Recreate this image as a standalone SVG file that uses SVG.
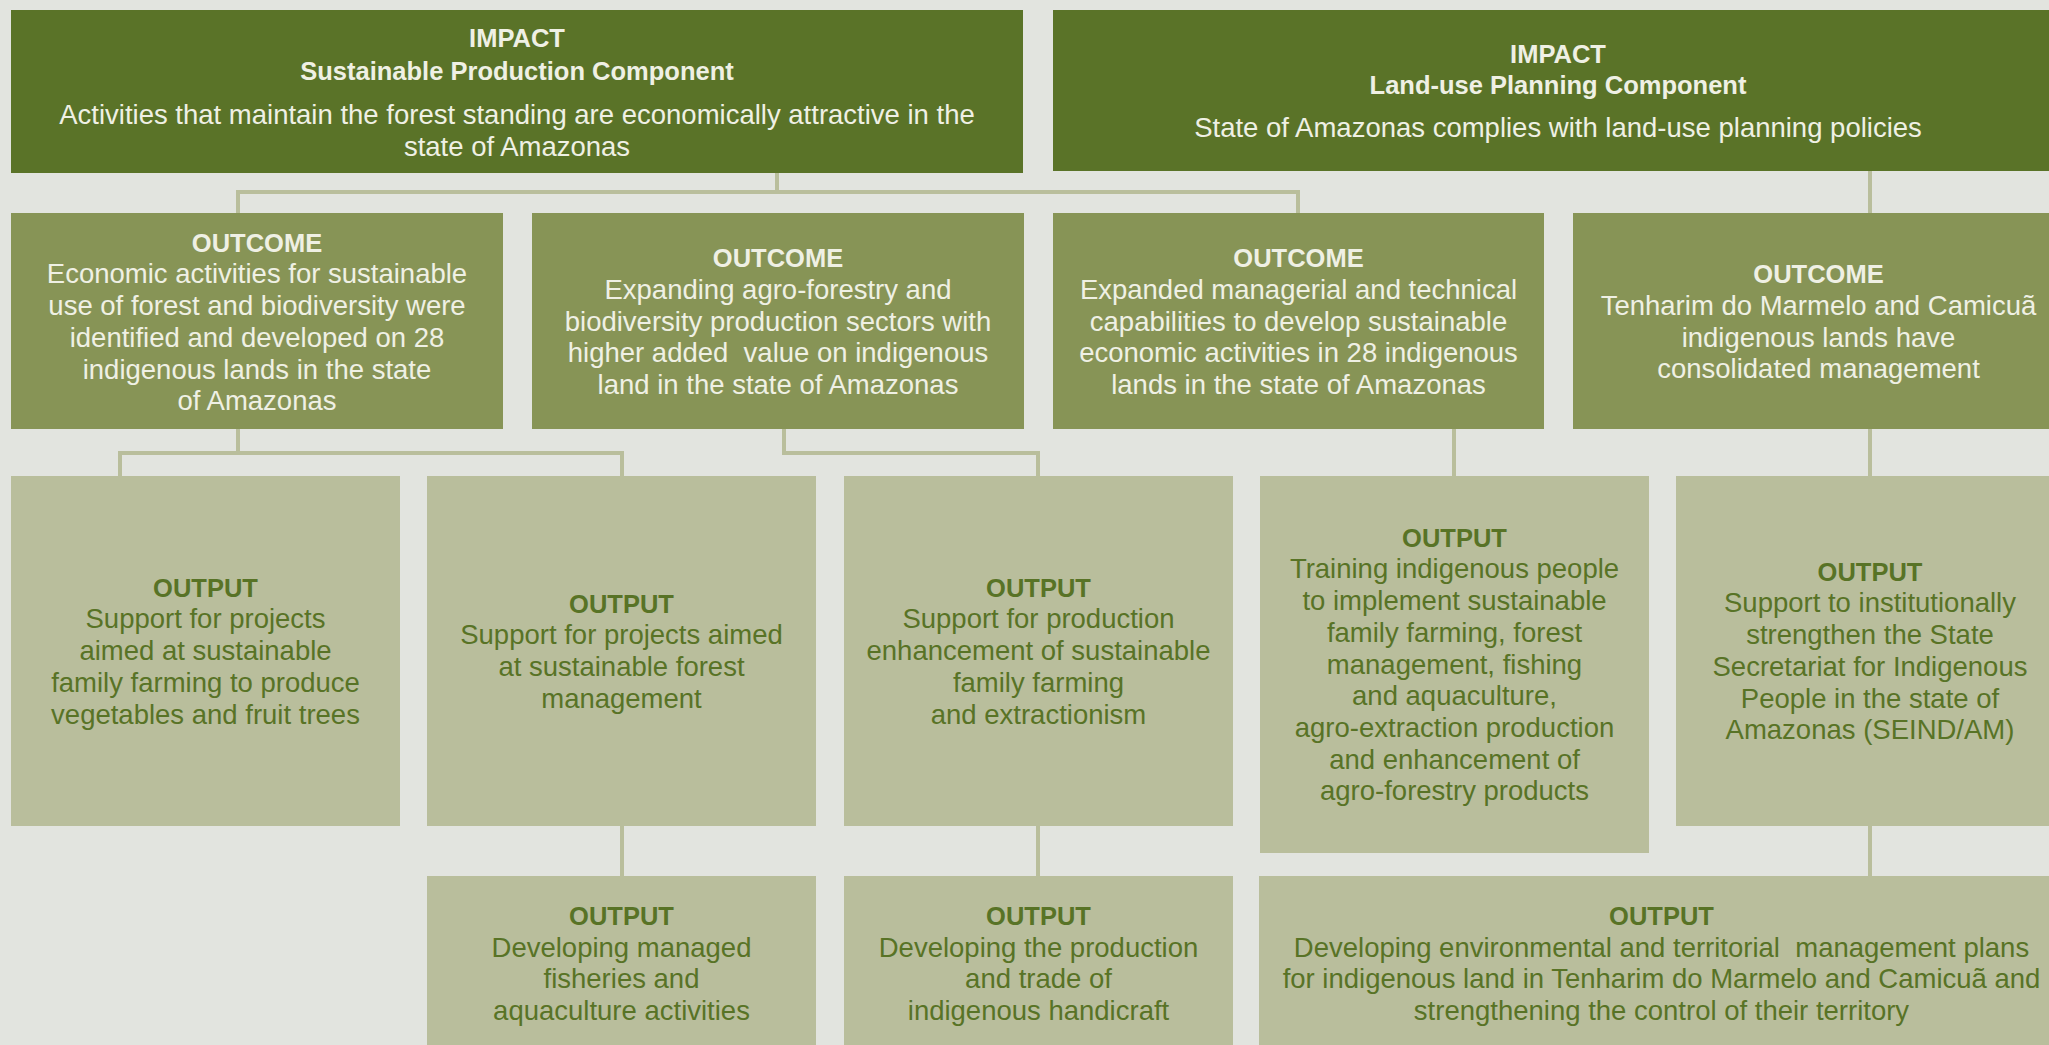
<svg xmlns="http://www.w3.org/2000/svg" width="2049" height="1045" viewBox="0 0 2049 1045">
<style>
text{font-family:"Liberation Sans",Arial,sans-serif;font-size:27.5px;text-anchor:middle}
.imp{fill:#5a7328}
.out{fill:#879456}
.opt{fill:#b9be9c}
.tl{fill:#eff0e4}
.td{fill:#587326}
.b{font-weight:700;font-size:25.5px}
.con{fill:none;stroke:#b9be9c;stroke-width:4}
</style>
<rect width="2049" height="1045" fill="#e2e4df"/>
<g id="connectors" class="con">
<path d="M777 173V192M238 213V192H1298V213"/>
<path d="M1870 171V213"/>
<path d="M238 429V453M120 476V453H622V476"/>
<path d="M784 429V453H1038V476"/>
<path d="M1454 429V476"/>
<path d="M1870 429V476"/>
<path d="M622 826V876"/>
<path d="M1038 826V876"/>
<path d="M1870 826V876"/>
</g>
<g id="impact1">
<rect class="imp" x="11" y="10" width="1012" height="163"/>
<text class="tl" x="517" y="47.3"><tspan class="b">IMPACT</tspan><tspan class="b" x="517" dy="32.7">Sustainable Production Component</tspan><tspan x="517" dy="44.3">Activities that maintain the forest standing are economically attractive in the</tspan><tspan x="517" dy="31.7">state of Amazonas</tspan></text>
</g>
<g id="impact2">
<rect class="imp" x="1053" y="10" width="1011" height="161"/>
<text class="tl" x="1558" y="62.7"><tspan class="b">IMPACT</tspan><tspan class="b" x="1558" dy="31.3">Land-use Planning Component</tspan><tspan x="1558" dy="43.3">State of Amazonas complies with land-use planning policies</tspan></text>
</g>
<g id="outcome1">
<rect class="out" x="11" y="213" width="492" height="216"/>
<text class="tl" x="257" y="251.7"><tspan class="b">OUTCOME</tspan><tspan x="257" dy="31.7">Economic activities for sustainable</tspan><tspan x="257" dy="31.7">use of forest and biodiversity were</tspan><tspan x="257" dy="31.7">identified and developed on 28</tspan><tspan x="257" dy="31.7">indigenous lands in the state</tspan><tspan x="257" dy="31.7">of Amazonas</tspan></text>
</g>
<g id="outcome2">
<rect class="out" x="532" y="213" width="492" height="216"/>
<text class="tl" x="778" y="267.3" xml:space="preserve"><tspan class="b">OUTCOME</tspan><tspan x="778" dy="31.7">Expanding agro-forestry and</tspan><tspan x="778" dy="31.7">biodiversity production sectors with</tspan><tspan x="778" dy="31.7">higher added  value on indigenous</tspan><tspan x="778" dy="31.7">land in the state of Amazonas</tspan></text>
</g>
<g id="outcome3">
<rect class="out" x="1053" y="213" width="491" height="216"/>
<text class="tl" x="1298.5" y="267.3"><tspan class="b">OUTCOME</tspan><tspan x="1298.5" dy="31.7">Expanded managerial and technical</tspan><tspan x="1298.5" dy="31.7">capabilities to develop sustainable</tspan><tspan x="1298.5" dy="31.7">economic activities in 28 indigenous</tspan><tspan x="1298.5" dy="31.7">lands in the state of Amazonas</tspan></text>
</g>
<g id="outcome4">
<rect class="out" x="1573" y="213" width="491" height="216"/>
<text class="tl" x="1818.5" y="283.3"><tspan class="b">OUTCOME</tspan><tspan x="1818.5" dy="31.7">Tenharim do Marmelo and Camicuã</tspan><tspan x="1818.5" dy="31.7">indigenous lands have</tspan><tspan x="1818.5" dy="31.7">consolidated management</tspan></text>
</g>
<g id="output1">
<rect class="opt" x="11" y="476" width="389" height="350"/>
<text class="td" x="205.5" y="596.7"><tspan class="b">OUTPUT</tspan><tspan x="205.5" dy="31.7">Support for projects</tspan><tspan x="205.5" dy="31.7">aimed at sustainable</tspan><tspan x="205.5" dy="31.7">family farming to produce</tspan><tspan x="205.5" dy="31.7">vegetables and fruit trees</tspan></text>
</g>
<g id="output2">
<rect class="opt" x="427" y="476" width="389" height="350"/>
<text class="td" x="621.5" y="612.7"><tspan class="b">OUTPUT</tspan><tspan x="621.5" dy="31.7">Support for projects aimed</tspan><tspan x="621.5" dy="31.7">at sustainable forest</tspan><tspan x="621.5" dy="31.7">management</tspan></text>
</g>
<g id="output3">
<rect class="opt" x="844" y="476" width="389" height="350"/>
<text class="td" x="1038.5" y="596.7"><tspan class="b">OUTPUT</tspan><tspan x="1038.5" dy="31.7">Support for production</tspan><tspan x="1038.5" dy="31.7">enhancement of sustainable</tspan><tspan x="1038.5" dy="31.7">family farming</tspan><tspan x="1038.5" dy="31.7">and extractionism</tspan></text>
</g>
<g id="output4">
<rect class="opt" x="1260" y="476" width="389" height="377"/>
<text class="td" x="1454.5" y="546.7"><tspan class="b">OUTPUT</tspan><tspan x="1454.5" dy="31.7">Training indigenous people</tspan><tspan x="1454.5" dy="31.7">to implement sustainable</tspan><tspan x="1454.5" dy="31.7">family farming, forest</tspan><tspan x="1454.5" dy="31.7">management, fishing</tspan><tspan x="1454.5" dy="31.7">and aquaculture,</tspan><tspan x="1454.5" dy="31.7">agro-extraction production</tspan><tspan x="1454.5" dy="31.7">and enhancement of</tspan><tspan x="1454.5" dy="31.7">agro-forestry products</tspan></text>
</g>
<g id="output5">
<rect class="opt" x="1676" y="476" width="389" height="350"/>
<text class="td" x="1870" y="580.7"><tspan class="b">OUTPUT</tspan><tspan x="1870" dy="31.7">Support to institutionally</tspan><tspan x="1870" dy="31.7">strengthen the State</tspan><tspan x="1870" dy="31.7">Secretariat for Indigenous</tspan><tspan x="1870" dy="31.7">People in the state of</tspan><tspan x="1870" dy="31.7">Amazonas (SEIND/AM)</tspan></text>
</g>
<g id="output6">
<rect class="opt" x="427" y="876" width="389" height="190"/>
<text class="td" x="621.5" y="925"><tspan class="b">OUTPUT</tspan><tspan x="621.5" dy="31.7">Developing managed</tspan><tspan x="621.5" dy="31.7">fisheries and</tspan><tspan x="621.5" dy="31.7">aquaculture activities</tspan></text>
</g>
<g id="output7">
<rect class="opt" x="844" y="876" width="389" height="190"/>
<text class="td" x="1038.5" y="925"><tspan class="b">OUTPUT</tspan><tspan x="1038.5" dy="31.7">Developing the production</tspan><tspan x="1038.5" dy="31.7">and trade of</tspan><tspan x="1038.5" dy="31.7">indigenous handicraft</tspan></text>
</g>
<g id="output8">
<rect class="opt" x="1259" y="876" width="805" height="190"/>
<text class="td" x="1661.5" y="925" xml:space="preserve"><tspan class="b">OUTPUT</tspan><tspan x="1661.5" dy="31.7">Developing environmental and territorial  management plans</tspan><tspan x="1661.5" dy="31.7">for indigenous land in Tenharim do Marmelo and Camicuã and</tspan><tspan x="1661.5" dy="31.7">strengthening the control of their territory</tspan></text>
</g>
</svg>
